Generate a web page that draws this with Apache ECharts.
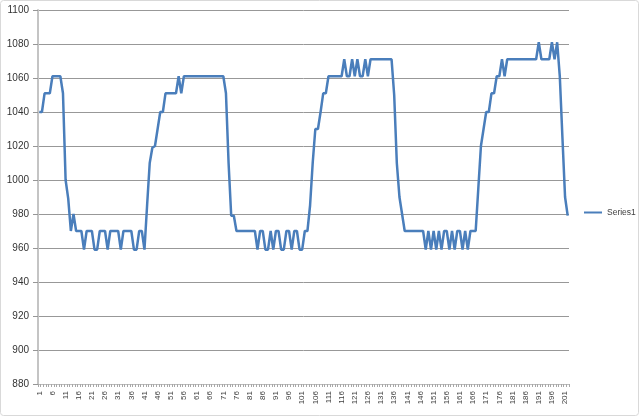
<!DOCTYPE html>
<html>
<head>
<meta charset="utf-8">
<script src="https://cdn.jsdelivr.net/npm/echarts@6/dist/echarts.min.js"></script>
<style>
html,body{margin:0;padding:0;background:#fff;}
#chart{width:640px;height:418px;}
</style>
</head>
<body>
<div id="chart"></div>
<script>
// Data
const seriesName = 'Series1';
const values = [
  1040,1040,1051,1051,1051,1061,1061,1061,1061,1051,
  1000,989,970,980,970,970,970,959,970,970,
  970,959,959,970,970,970,959,970,970,970,
  970,959,970,970,970,970,959,959,970,970,
  959,985,1010,1019,1020,1030,1040,1040,1051,1051,
  1051,1051,1051,1061,1051,1061,1061,1061,1061,1061,
  1061,1061,1061,1061,1061,1061,1061,1061,1061,1061,
  1061,1051,1010,979,979,970,970,970,970,970,
  970,970,970,959,970,970,959,959,970,959,
  970,970,959,959,970,970,959,970,970,959,
  959,970,970,985,1010,1030,1030,1040,1051,1051,
  1061,1061,1061,1061,1061,1061,1071,1061,1061,1071,
  1061,1071,1061,1061,1071,1061,1071,1071,1071,1071,
  1071,1071,1071,1071,1071,1050,1010,990,980,970,
  970,970,970,970,970,970,970,959,970,959,
  970,959,970,959,970,970,959,970,959,970,
  970,959,970,959,970,970,970,995,1020,1030,
  1040,1040,1051,1051,1061,1061,1071,1061,1071,1071,
  1071,1071,1071,1071,1071,1071,1071,1071,1071,1071,
  1081,1071,1071,1071,1071,1081,1071,1081,1061,1025,
  990,979
];
const categories = values.map((v, i) => String(i + 1));
const yMin = 880, yMax = 1100, yStep = 20;

const chart = echarts.init(document.getElementById('chart'), null, {renderer: 'canvas'});
chart.setOption({
  animation: false,
  backgroundColor: '#ffffff',
  graphic: [{
    type: 'rect', silent: true,
    shape: {x: 0.5, y: 0.5, width: 638, height: 415, r: 3},
    style: {fill: 'none', stroke: '#d9d9d9', lineWidth: 1}
  }],
  grid: {left: 38, right: 71, top: 10, bottom: 34, containLabel: false},
  legend: {
    data: [seriesName],
    left: 579, top: 203,
    orient: 'vertical',
    icon: 'rect', itemWidth: 18, itemHeight: 2, itemGap: 0,
    textStyle: {fontSize: 8.5, color: '#404040', fontFamily: 'Liberation Sans, Arial, sans-serif'}
  },
  xAxis: {
    type: 'category',
    data: categories,
    boundaryGap: true,
    axisLine: {show: true, lineStyle: {color: '#bdbdbd', width: 1}},
    axisTick: {show: true, interval: 0, length: 3, lineStyle: {color: '#a8a8a8'}},
    axisLabel: {
      interval: 4, rotate: 90, margin: 7,
      fontSize: 8, color: '#404040',
      fontFamily: 'Liberation Sans, Arial, sans-serif'
    },
    splitLine: {show: false}
  },
  yAxis: {
    type: 'value',
    min: yMin, max: yMax, interval: yStep,
    axisLine: {show: true, lineStyle: {color: '#c4c4c4', width: 2}},
    axisTick: {show: true, length: 5, lineStyle: {color: '#969696'}},
    axisLabel: {
      margin: 9, fontSize: 10, color: '#333333',
      fontFamily: 'Liberation Sans, Arial, sans-serif',
      formatter: function (v) { return String(v); }
    },
    splitLine: {show: true, lineStyle: {color: '#989898', width: 1}}
  },
  series: [{
    name: seriesName,
    type: 'line',
    data: values,
    symbol: 'none',
    smooth: false,
    lineStyle: {color: '#4a7ebb', width: 2.5},
    itemStyle: {color: '#4a7ebb'}
  }]
});
</script>
</body>
</html>
